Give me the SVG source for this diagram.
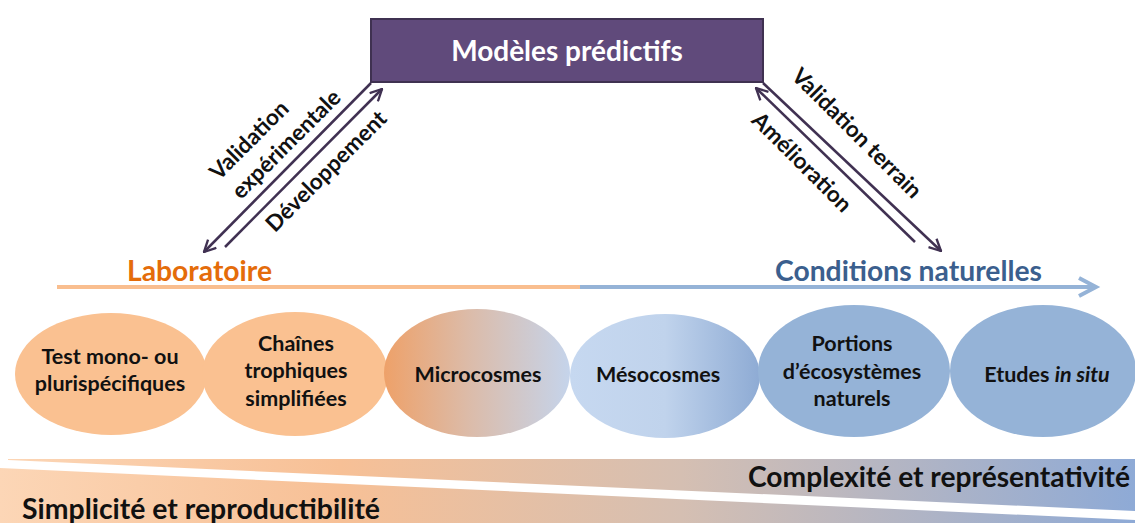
<svg xmlns="http://www.w3.org/2000/svg" width="1135" height="523" viewBox="0 0 1135 523">
<style>
.t{font-family:Lato,"Liberation Sans",sans-serif;font-weight:700;}
.lbl{font-size:22.5px;fill:#111;}
.node{font-size:21.5px;fill:#111;text-anchor:middle;}
.conn{stroke:#403152;stroke-width:2.5;fill:none;}
</style>
<defs>
<marker id="ah" viewBox="0 0 12 12" refX="11" refY="6" markerWidth="14" markerHeight="14" markerUnits="userSpaceOnUse" orient="auto">
<path d="M1,1 L11,6 L1,11" fill="none" stroke="#403152" stroke-width="2"/>
</marker>
<linearGradient id="gMicro" x1="0" y1="0" x2="1" y2="0">
<stop offset="0" stop-color="#eea169"/>
<stop offset="0.45" stop-color="#dcbba8"/>
<stop offset="1" stop-color="#c5d4eb"/>
</linearGradient>
<linearGradient id="gMeso" x1="0" y1="0" x2="1" y2="0">
<stop offset="0" stop-color="#c6d8f0"/>
<stop offset="0.5" stop-color="#c0d3ec"/>
<stop offset="1" stop-color="#8eabd4"/>
</linearGradient>
<linearGradient id="gBand" gradientUnits="userSpaceOnUse" x1="0" y1="0" x2="1135" y2="0">
<stop offset="0" stop-color="#fcd6b6"/>
<stop offset="0.3" stop-color="#f7c096"/>
<stop offset="0.6" stop-color="#d5bfb2"/>
<stop offset="1" stop-color="#8eaad6"/>
</linearGradient>
</defs>

<!-- bottom bands -->
<g id="band-complexity">
<polygon points="8,459 1135,459 1135,511 8,460" fill="url(#gBand)"/>
<text class="t" x="1130" y="487" font-size="28" text-anchor="end" textLength="382" lengthAdjust="spacingAndGlyphs" fill="#111">Complexité et représentativité</text>
</g>
<g id="band-simplicity">
<polygon points="0,468 1135,520 1135,523 0,523" fill="url(#gBand)"/>
<text class="t" x="22" y="519" font-size="28" textLength="358" lengthAdjust="spacingAndGlyphs" fill="#111">Simplicité et reproductibilité</text>
</g>

<!-- axis -->
<g id="axis">
<line x1="57" y1="287" x2="581" y2="287" stroke="#f9be8f" stroke-width="4"/>
<line x1="580" y1="287" x2="1094" y2="287" stroke="#95b3d7" stroke-width="4"/>
<polyline points="1079,278 1096,287 1079,296" fill="none" stroke="#95b3d7" stroke-width="4"/>
</g>
<g id="label-lab">
<text class="t" x="127" y="281" font-size="28" textLength="145" lengthAdjust="spacingAndGlyphs" fill="#e46c0a">Laboratoire</text>
</g>
<g id="label-nat">
<text class="t" x="775" y="281" font-size="28" textLength="267" lengthAdjust="spacingAndGlyphs" fill="#3b5f8e">Conditions naturelles</text>
</g>

<!-- top node -->
<g id="modeles">
<rect x="371" y="19" width="392" height="63" fill="#604a7b" stroke="#3f3151" stroke-width="2"/>
<text class="t" x="567" y="61" font-size="28" text-anchor="middle" fill="#fff">Modèles prédictifs</text>
</g>

<!-- connectors -->
<g id="connectors">
<line class="conn" x1="371" y1="83" x2="204" y2="252" marker-end="url(#ah)"/>
<line class="conn" x1="225" y1="247" x2="382" y2="89" marker-end="url(#ah)"/>
<line class="conn" x1="763" y1="83" x2="941" y2="251" marker-end="url(#ah)"/>
<line class="conn" x1="915" y1="242" x2="756" y2="88" marker-end="url(#ah)"/>
<g class="t lbl">
<text transform="translate(249,140) rotate(-45)" text-anchor="middle" dy="0.35em">Validation</text>
<text transform="translate(286,144) rotate(-45)" text-anchor="middle" dy="0.35em">expérimentale</text>
<text transform="translate(326,171) rotate(-45)" text-anchor="middle" dy="0.35em">Développement</text>
<text transform="translate(857,133) rotate(45)" text-anchor="middle" dy="0.35em">Validation terrain</text>
<text transform="translate(802,162) rotate(45)" text-anchor="middle" dy="0.35em">Amélioration</text>
</g>
</g>

<!-- ellipse nodes -->
<g id="n-test">
<ellipse cx="111" cy="374" rx="96" ry="61" fill="#fac191"/>
<text class="t node" x="110" y="364">Test mono- ou</text>
<text class="t node" x="110" y="391">plurispécifiques</text>
</g>
<g id="n-chaines">
<ellipse cx="295" cy="374" rx="93" ry="62" fill="#fac191"/>
<text class="t node" x="296" y="351">Chaînes</text>
<text class="t node" x="296" y="378">trophiques</text>
<text class="t node" x="296" y="406">simplifiées</text>
</g>
<g id="n-micro">
<ellipse cx="477" cy="373" rx="93" ry="64" fill="url(#gMicro)"/>
<text class="t node" x="478" y="382">Microcosmes</text>
</g>
<g id="n-meso">
<ellipse cx="665" cy="376" rx="95" ry="62" fill="url(#gMeso)"/>
<text class="t node" x="658" y="382">Mésocosmes</text>
</g>
<g id="n-portions">
<ellipse cx="854" cy="371" rx="96" ry="66" fill="#95b3d7"/>
<text class="t node" x="852" y="351">Portions</text>
<text class="t node" x="852" y="379">d’écosystèmes</text>
<text class="t node" x="852" y="406">naturels</text>
</g>
<g id="n-insitu">
<ellipse cx="1043" cy="371" rx="93" ry="66" fill="#95b3d7"/>
<text class="t node" x="1047" y="382">Etudes <tspan font-style="italic">in situ</tspan></text>
</g>
</svg>
